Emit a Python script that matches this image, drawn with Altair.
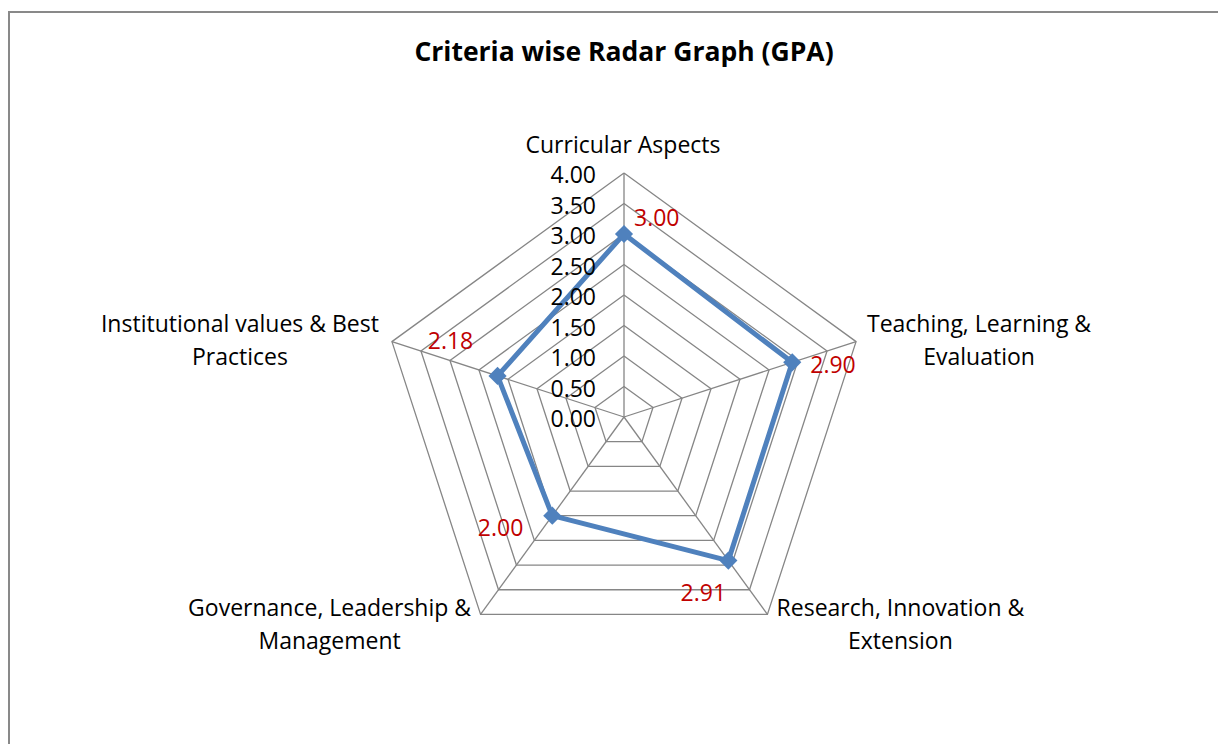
import altair as alt
import pandas as pd

# ---------------- data ----------------
title_text = "Criteria wise Radar Graph (GPA)"
categories = [
    "Curricular Aspects",
    "Teaching, Learning & Evaluation",
    "Research, Innovation & Extension",
    "Governance, Leadership & Management",
    "Institutional values & Best Practices",
]
category_labels = [
    "Curricular Aspects",
    "Teaching, Learning &\nEvaluation",
    "Research, Innovation &\nExtension",
    "Governance, Leadership &\nManagement",
    "Institutional values & Best\nPractices",
]
gpa_values = [3.00, 2.90, 2.91, 2.00, 2.18]
tick_values = [0.0, 0.5, 1.0, 1.5, 2.0, 2.5, 3.0, 3.5, 4.0]

# ---------------- layout / style ----------------
W, H = 1210, 736
CX, CY = 616, 409          # centre of the radar inside the chart (px)
UNIT = 61.0                # px per GPA unit
N = len(categories)
RMAX = max(tick_values)
FONT = "Open Sans"
GRID = "#868686"
BLUE = "#4F81BD"
RED = "#C00000"

xs = alt.Scale(domain=[-CX / UNIT, (W - CX) / UNIT], nice=False, zero=False)
ys = alt.Scale(domain=[-(H - CY) / UNIT, CY / UNIT], nice=False, zero=False)
ANG = f"PI/2 - datum.idx*2*PI/{N}"


def polar(ch, rfield):
    return ch.transform_calculate(
        px=f"datum.{rfield}*cos({ANG})", py=f"datum.{rfield}*sin({ANG})"
    )


X = alt.X("px:Q", scale=xs, axis=None)
Y = alt.Y("py:Q", scale=ys, axis=None)

# ring grid
ring_df = pd.DataFrame(
    [{"level": lv, "idx": i} for lv in tick_values[1:] for i in range(N + 1)]
)
rings = polar(alt.Chart(ring_df), "level").mark_line(
    color=GRID, strokeWidth=1.3
).encode(x=X, y=Y, detail="level:N", order="idx:Q")

# spokes
spoke_df = pd.DataFrame({"idx": list(range(N)), "r": [RMAX] * N, "zero": [0.0] * N})
spokes = polar(alt.Chart(spoke_df), "r").mark_rule(color=GRID, strokeWidth=1.3).encode(
    x=X, y=Y, x2="zero:Q", y2="zero:Q"
)

# series
series_df = pd.DataFrame(
    {"idx": list(range(N + 1)), "v": [gpa_values[i % N] for i in range(N + 1)]}
)
line = polar(alt.Chart(series_df), "v").mark_line(
    color=BLUE, strokeWidth=5, strokeJoin="round"
).encode(x=X, y=Y, order="idx:Q")

pts_df = pd.DataFrame({"idx": list(range(N)), "v": gpa_values})
points = polar(alt.Chart(pts_df), "v").mark_point(
    shape="diamond", filled=True, color=BLUE, size=330, opacity=1
).encode(x=X, y=Y)

# value labels (offsets per point, in px)
val_offsets = [(10, -15, "left"), (18, 4, "left"), (-25, 33, "center"),
               (-29, 13, "right"), (-47, -34, "center")]
val_layers = []
for i, (dx, dy, al) in enumerate(val_offsets):
    val_layers.append(
        polar(alt.Chart(pts_df), "v")
        .transform_filter(f"datum.idx == {i}")
        .mark_text(font=FONT, fontSize=23, color=RED, dx=dx, dy=dy, align=al,
                   baseline="middle")
        .encode(x=X, y=Y, text=alt.Text("v:Q", format=".2f"))
    )

# category labels
cat_df = pd.DataFrame({"idx": list(range(N)), "r": [RMAX] * N, "lab": category_labels})
cat_offsets = [(-1, -27), (123, -17), (133, -5), (-151, -5), (-152, -17)]
cat_layers = []
for i, (dx, dy) in enumerate(cat_offsets):
    cat_layers.append(
        polar(alt.Chart(cat_df), "r")
        .transform_filter(f"datum.idx == {i}")
        .mark_text(font=FONT, fontSize=23, color="black", dx=dx, dy=dy,
                   align="center", baseline="middle", lineBreak="\n", lineHeight=33)
        .encode(x=X, y=Y, text="lab:N")
    )

# radial tick labels
tick_df = pd.DataFrame({"level": tick_values, "idx": [0] * len(tick_values)})
ticks = polar(alt.Chart(tick_df), "level").mark_text(
    font=FONT, fontSize=23, color="black", align="right", baseline="middle", dx=-28, dy=3
).encode(x=X, y=Y, text=alt.Text("level:Q", format=".2f"))

# title
title = alt.Chart(pd.DataFrame({"t": [title_text]})).mark_text(
    font=FONT, fontSize=26.5, fontWeight="bold", color="black", align="center",
    baseline="middle"
).encode(x=alt.value(CX), y=alt.value(45), text="t:N")

# outer border
border = alt.Chart(pd.DataFrame({"k": [0]})).mark_rect(
    fill="transparent", stroke="#898989", strokeWidth=2
).encode(x=alt.value(1), x2=alt.value(1600), y=alt.value(4), y2=alt.value(1200))

chart = alt.layer(
    border, rings, spokes, line, points, ticks, title, *val_layers, *cat_layers
).properties(
    width=W, height=H, padding=0, autosize=alt.AutoSizeParams(type="none")
).configure_view(stroke=None)

chart.save("out.html", embed_options={"renderer": "svg", "actions": False})
